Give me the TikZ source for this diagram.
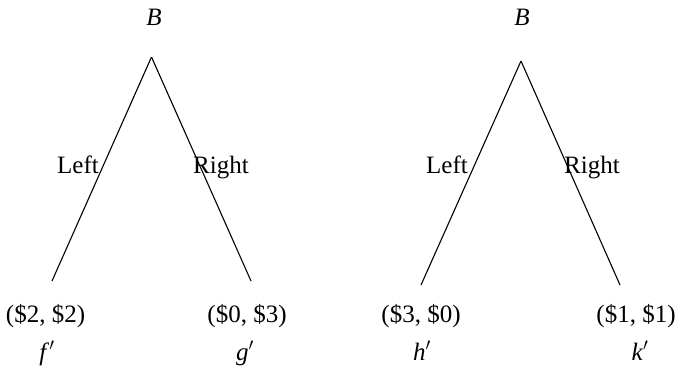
\documentclass[tikz,border=0pt]{standalone}
\usepackage{fontspec}
\setmainfont{Liberation Serif}
\begin{document}
\begin{tikzpicture}[x=1pt,y=-1pt,
  lbl/.style={font=\fontsize{25}{29}\selectfont, inner sep=0pt},
  edge/.style={line width=1.1pt}]
\useasboundingbox (0,0) rectangle (679,368);
% left tree
\coordinate (a1) at (151.5,57);
\coordinate (l1) at (52,281);
\coordinate (r1) at (251,281);
\node[lbl] (b1) at (154,17) {\textit{B}};
\draw[edge] (a1) -- (l1);
\draw[edge] (a1) -- (r1);
\node[lbl,anchor=base] (left1) at (78,173) {Left};
\node[lbl,anchor=base] (right1) at (221,173) {Right};
\node[lbl,anchor=base] (p1) at (45.5,322) {(\$2, \$2)};
\node[lbl,anchor=base] (p2) at (247,322) {(\$0, \$3)};
\node[lbl,anchor=base] (n1) at (47,360) {\textit{f}$'$};
\node[lbl,anchor=base] (n2) at (245,360) {\textit{g}$'$};
% right tree
\coordinate (a2) at (521,61);
\coordinate (l2) at (421,285);
\coordinate (r2) at (620,285);
\node[lbl] (b2) at (522,17) {\textit{B}};
\draw[edge] (a2) -- (l2);
\draw[edge] (a2) -- (r2);
\node[lbl,anchor=base] (left2) at (447,173) {Left};
\node[lbl,anchor=base] (right2) at (592,173) {Right};
\node[lbl,anchor=base] (p3) at (421,322) {(\$3, \$0)};
\node[lbl,anchor=base] (p4) at (636,322) {(\$1, \$1)};
\node[lbl,anchor=base] (n3) at (422,360) {\textit{h}$'$};
\node[lbl,anchor=base] (n4) at (640,360) {\textit{k}$'$};
\end{tikzpicture}
\end{document}
